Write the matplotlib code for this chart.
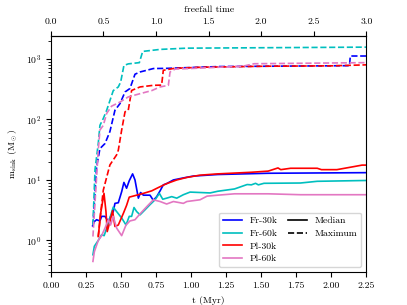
import matplotlib
matplotlib.use("Agg")
import matplotlib.pyplot as plt
from matplotlib.lines import Line2D

plt.rcParams["font.family"] = "serif"
plt.rcParams["font.serif"] = ["cmr10", "DejaVu Serif"]
plt.rcParams["mathtext.fontset"] = "cm"
plt.rcParams["axes.formatter.use_mathtext"] = True
plt.rcParams["font.size"] = 7

T_FF = 0.75  # Myr per freefall time

# median sink mass (solid)
t_fr30_med = [0.298, 0.31, 0.326, 0.35, 0.362, 0.386, 0.41, 0.421, 0.445, 0.457, 0.481, 0.505,
              0.521, 0.54, 0.559, 0.583, 0.6, 0.624, 0.64, 0.66, 0.707, 0.731, 0.755, 0.779,
              0.802, 0.826, 0.874, 0.945, 1.017, 1.19, 1.55, 2.25]
m_fr30_med = [1.75, 2.05, 2.2, 2.1, 2.5, 2.5, 2.05, 2.35, 3.0, 4.1, 4.2, 6.4,
              9.1, 7.3, 9.7, 12.6, 10.0, 5.0, 6.2, 5.6, 5.6, 4.6, 5.3, 6.6,
              8.3, 8.7, 10.0, 10.8, 11.6, 12.3, 12.9, 13.2]

t_fr60_med = [0.30, 0.31, 0.338, 0.362, 0.38, 0.398, 0.421, 0.445, 0.469, 0.505, 0.536, 0.559,
              0.576, 0.593, 0.612, 0.636, 0.671, 0.707, 0.743, 0.774, 0.798, 0.826, 0.862,
              0.898, 0.945, 0.993, 1.064, 1.136, 1.19, 1.31, 1.40, 1.43, 1.46, 1.48, 1.52,
              1.78, 1.90, 2.25]
m_fr60_med = [0.58, 0.8, 1.0, 1.24, 1.2, 1.6, 2.35, 3.55, 3.0, 2.35, 1.8, 2.5,
              2.5, 3.5, 3.0, 2.65, 3.2, 3.9, 4.7, 6.0, 4.8, 5.0, 5.3,
              5.0, 5.7, 6.3, 6.2, 6.1, 6.5, 7.1, 8.4, 8.3, 8.8, 8.3, 8.8,
              8.9, 9.5, 9.8]

t_pl30_med = [0.338, 0.355, 0.379, 0.393, 0.402, 0.421, 0.44, 0.457, 0.481, 0.517, 0.54, 0.559,
              0.612, 0.66, 0.719, 0.767, 0.826, 0.898, 0.969, 1.064, 1.19, 1.43, 1.55, 1.62,
              1.64, 1.71, 1.90, 1.93, 2.04, 2.16, 2.22, 2.25]
m_pl30_med = [1.16, 2.8, 6.0, 3.0, 1.4, 2.05, 3.1, 1.7, 1.8, 2.8, 3.8, 5.2,
              5.6, 6.0, 6.6, 7.5, 8.7, 10.0, 11.0, 12.0, 12.6, 13.4, 14.0, 15.8,
              14.8, 15.6, 15.6, 14.8, 14.8, 16.6, 17.6, 17.6]

t_pl60_med = [0.30, 0.31, 0.338, 0.362, 0.386, 0.41, 0.426, 0.445, 0.469, 0.505, 0.536, 0.564,
              0.60, 0.636, 0.683, 0.731, 0.779, 0.826, 0.874, 0.921, 0.945, 0.97, 1.064,
              1.114, 1.19, 1.31, 1.55, 1.78, 2.25]
m_pl60_med = [0.45, 0.65, 1.0, 1.2, 1.6, 2.2, 1.8, 2.5, 1.6, 1.2, 1.8, 2.1,
              2.2, 2.75, 3.6, 4.7, 4.4, 4.0, 4.4, 4.2, 4.1, 4.4, 4.7,
              5.4, 5.6, 5.9, 5.9, 5.7, 5.7]

# maximum sink mass (dashed)
t_fr30_max = [0.30, 0.326, 0.35, 0.386, 0.421, 0.457, 0.493, 0.529, 0.564, 0.60, 0.636, 0.683,
              0.731, 0.826, 1.2, 2.13, 2.136, 2.25]
m_fr30_max = [1.7, 16.5, 33, 40, 63, 142, 183, 285, 325, 560, 610, 650,
              695, 700, 750, 775, 1120, 1120]

t_fr60_max = [0.30, 0.315, 0.338, 0.35, 0.374, 0.398, 0.445, 0.481, 0.498, 0.521, 0.552, 0.631,
              0.655, 0.779, 0.969, 2.25]
m_fr60_max = [1.8, 15, 40, 80, 104, 142, 300, 345, 417, 780, 830, 870,
              1334, 1440, 1510, 1570]

t_pl30_max = [0.338, 0.355, 0.374, 0.421, 0.469, 0.481, 0.505, 0.529, 0.552, 0.576, 0.636, 0.731,
              0.79, 0.802, 0.88, 1.07, 1.55, 2.0, 2.25]
m_pl30_max = [1.16, 2.8, 6.8, 17.7, 26, 31, 67, 134, 142, 302, 345, 367,
              370, 650, 700, 730, 760, 770, 800]

t_pl60_max = [0.30, 0.338, 0.35, 0.374, 0.398, 0.433, 0.493, 0.552, 0.636, 0.719, 0.779, 0.838,
              0.85, 0.886, 1.02, 1.37, 1.45, 2.25]
m_pl60_max = [1.16, 31, 67, 80, 126, 166, 194, 236, 267, 300, 345, 367,
              610, 680, 700, 760, 835, 870]

labels = ["Fr-30k", "Fr-60k", "Pl-30k", "Pl-60k"]
colors = ["b", "c", "r", "tab:pink"]
medians = [(t_fr30_med, m_fr30_med), (t_fr60_med, m_fr60_med),
           (t_pl30_med, m_pl30_med), (t_pl60_med, m_pl60_med)]
maxima = [(t_fr30_max, m_fr30_max), (t_fr60_max, m_fr60_max),
          (t_pl30_max, m_pl30_max), (t_pl60_max, m_pl60_max)]

fig = plt.figure(figsize=(4.07, 3.05), dpi=100)
ax = fig.add_axes([0.125, 0.108, 0.775, 0.774])

for (tm, mm), (tx, mx), c in zip(medians, maxima, colors):
    ax.plot(tm, mm, color=c, lw=1.2)
    ax.plot(tx, mx, color=c, lw=1.2, ls="--")

ax.set_yscale("log")
ax.set_xlim(0, 2.25)
ax.set_ylim(0.3, 2400)
ax.set_xticks([0, 0.25, 0.5, 0.75, 1.0, 1.25, 1.5, 1.75, 2.0, 2.25])
ax.set_xticklabels(["0.00", "0.25", "0.50", "0.75", "1.00", "1.25", "1.50", "1.75", "2.00", "2.25"])
ax.set_xlabel("t (Myr)")
ax.set_ylabel(r"$\mathrm{m_{sink}}$ (M$_\odot$)")

top = ax.secondary_xaxis("top", functions=(lambda t: t / T_FF, lambda f: f * T_FF))
top.set_xticks([0.0, 0.5, 1.0, 1.5, 2.0, 2.5, 3.0])
top.set_xticklabels(["0.0", "0.5", "1.0", "1.5", "2.0", "2.5", "3.0"])
top.set_xlabel("freefall time")

handles = [Line2D([], [], color=c, lw=1.2) for c in colors]
handles += [Line2D([], [], color="k", lw=1.2), Line2D([], [], color="k", lw=1.2, ls="--"),
            Line2D([], [], color="none"), Line2D([], [], color="none")]
names = labels + ["Median", "Maximum", "", ""]
ax.legend(handles, names, ncol=2, loc="lower right", fontsize=7,
          columnspacing=1.0, labelspacing=0.4)

fig.savefig("out.png", dpi=100)
